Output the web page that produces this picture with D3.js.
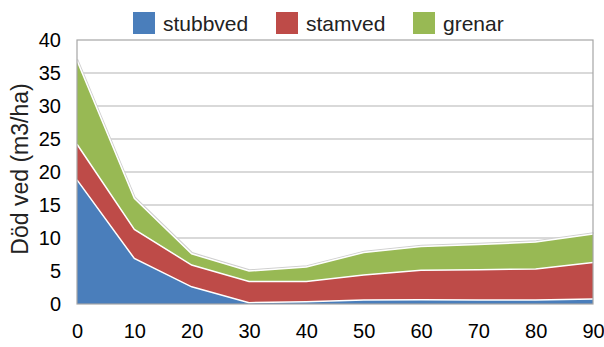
<!DOCTYPE html>
<html>
<head>
<meta charset="utf-8">
<script src="https://cdn.jsdelivr.net/npm/d3@7"></script>
<style>
	body { margin: 0; background: #fff; }
	svg { display: block; }
	svg text { font-family: Arial, "Liberation Sans", Helvetica, sans-serif; }
</style>
</head>
<body>
<svg id="chart" width="604" height="347"></svg>
<script>
// ålder (år) on x, död ved per fraktion (m3/ha)
var years = [0, 10, 20, 30, 40, 50, 60, 70, 80, 90];
var stubbved = [18.8, 6.9, 2.6, 0.2, 0.35, 0.6, 0.65, 0.6, 0.6, 0.75];
var stamved = [5.4, 4.4, 3.3, 3.2, 3.05, 3.8, 4.45, 4.6, 4.7, 5.55];
var grenar = [12.7, 4.7, 1.7, 1.6, 2.2, 3.4, 3.6, 3.8, 4.1, 4.3];
var seriesNames = ['stubbved', 'stamved', 'grenar'];
var seriesColors = ['#4a7ebb', '#be4b48', '#98b954'];
var yTicks = [0, 5, 10, 15, 20, 25, 30, 35, 40];

var svg = d3.select('#chart');
var margin = { left: 77, right: 11, top: 40, bottom: 43 };
var width = 604 - margin.left - margin.right;
var height = 347 - margin.top - margin.bottom;

var x = d3.scaleLinear().domain([0, 90]).range([0, width]);
var y = d3.scaleLinear().domain([0, 40]).range([height, 0]);

var rows = years.map(function(yr, i){
	return { year: yr, stubbved: stubbved[i], stamved: stamved[i], grenar: grenar[i] };
});
var stacked = d3.stack().keys(seriesNames)(rows);

var g = svg.append('g').attr('transform', 'translate(' + margin.left + ',' + margin.top + ')');

// gridlines
g.selectAll('line.grid')
	.data(yTicks.slice(1, -1))
	.enter().append('line')
	.attr('class', 'grid')
	.attr('x1', 0).attr('x2', width)
	.attr('y1', function(d){ return y(d); })
	.attr('y2', function(d){ return y(d); })
	.attr('stroke', '#b3b3b3')
	.attr('stroke-width', 1);

var area = d3.area()
	.x(function(d){ return x(d.data.year); })
	.y0(function(d){ return y(d[0]); })
	.y1(function(d){ return y(d[1]); });

var topLine = d3.line()
	.x(function(d){ return x(d.data.year); })
	.y(function(d){ return y(d[1]); });

// faint shadow along the outer edge
g.append('path')
	.datum(stacked[2])
	.attr('d', topLine)
	.attr('transform', 'translate(0.5,-1)')
	.attr('fill', 'none')
	.attr('stroke', '#d0d0d0')
	.attr('stroke-width', 1.5);

g.selectAll('path.area')
	.data(stacked)
	.enter().append('path')
	.attr('class', 'area')
	.attr('d', area)
	.attr('fill', function(d, i){ return seriesColors[i]; });

// white edge along top of each layer
g.selectAll('path.edge')
	.data(stacked)
	.enter().append('path')
	.attr('class', 'edge')
	.attr('d', topLine)
	.attr('fill', 'none')
	.attr('stroke', '#fff')
	.attr('stroke-width', 1.5);

// frame
g.append('rect')
	.attr('x', 0).attr('y', 0)
	.attr('width', width).attr('height', height)
	.attr('fill', 'none')
	.attr('stroke', '#a6a6a6')
	.attr('stroke-width', 1.2);

// axes
var yAxis = d3.axisLeft(y).tickValues(yTicks).tickSize(0).tickPadding(16);
var xAxis = d3.axisBottom(x).tickValues(years).tickSize(0).tickPadding(16);

var gy = g.append('g').call(yAxis);
var gx = g.append('g').attr('transform', 'translate(0,' + height + ')').call(xAxis);
[gy, gx].forEach(function(ax){
	ax.attr('font-family', null);
	ax.select('.domain').remove();
	ax.selectAll('text')
		.attr('font-size', 20)
		.attr('fill', '#000');
});
gx.selectAll('text').attr('dy', '0.9em');

svg.append('text')
	.attr('transform', 'translate(28,169) rotate(-90)')
	.attr('text-anchor', 'middle')
	.attr('font-size', 23)
	.attr('fill', '#222')
	.text('Död ved (m3/ha)');

// legend
var legendX = [133, 276, 413];
var legend = svg.selectAll('g.legend')
	.data(seriesNames)
	.enter().append('g')
	.attr('class', 'legend')
	.attr('transform', function(d, i){ return 'translate(' + legendX[i] + ',12)'; });
legend.append('rect')
	.attr('width', 22).attr('height', 22)
	.attr('fill', function(d, i){ return seriesColors[i]; });
legend.append('text')
	.attr('x', 30).attr('y', 19)
	.attr('font-size', 21)
	.attr('fill', '#222')
	.text(function(d){ return d; });
</script>
</body>
</html>
